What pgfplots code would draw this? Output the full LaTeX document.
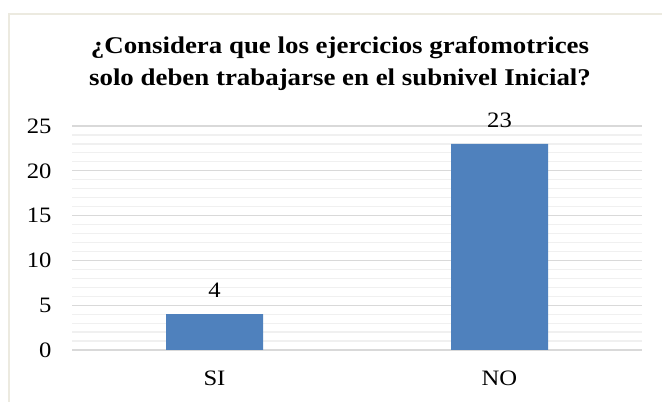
\documentclass[border=0pt]{standalone}
\usepackage{pgfplots}
\pgfplotsset{compat=1.18}
\usepackage{fontspec}
\setmainfont[FakeStretch=1.12]{Liberation Serif}
\definecolor{barblue}{HTML}{4F81BD}
\definecolor{majgrid}{HTML}{D9D9D9}
\definecolor{mingrid}{HTML}{F0F0F0}
\definecolor{frame}{HTML}{ECEAE0}
\begin{document}
\begin{tikzpicture}[x=1pt,y=1pt]
\useasboundingbox (0,0) rectangle (662,402);
\fill[white] (0,0) rectangle (662,402);
\draw[frame, line width=1.5pt] (9,0) -- (9,388) -- (662,388);
\node[font=\fontsize{24}{32}\selectfont\bfseries, align=center] at (340,338) {¿Considera que los ejercicios grafomotrices\\solo deben trabajarse en el subnivel Inicial?};
\begin{axis}[
  at={(72pt,52pt)}, anchor=south west,
  scale only axis, width=570pt, height=224pt,
  xmin=-0.5, xmax=1.5, ymin=0, ymax=25,
  xtick={0,1}, xticklabels={SI,NO},
  ytick={0,5,...,25}, minor y tick num=4,
  ymajorgrids, yminorgrids,
  major grid style={majgrid, line width=1.2pt},
  minor grid style={mingrid, line width=1.2pt},
  axis line style={draw=none},
  major tick length=0pt, minor tick length=0pt,
  tick label style={font=\fontsize{22}{26}\selectfont},
  /pgf/number format/assume math mode=true,
  yticklabel style={xshift=-17pt},
  xticklabel style={yshift=-17pt},
  ybar, bar width=97pt,
  nodes near coords,
  every node near coord/.append style={font=\fontsize{22}{26}\selectfont, yshift=13pt},
]
\addplot[fill=barblue, draw=none] coordinates {(0,4) (1,23)};
\end{axis}
\end{tikzpicture}
\end{document}
